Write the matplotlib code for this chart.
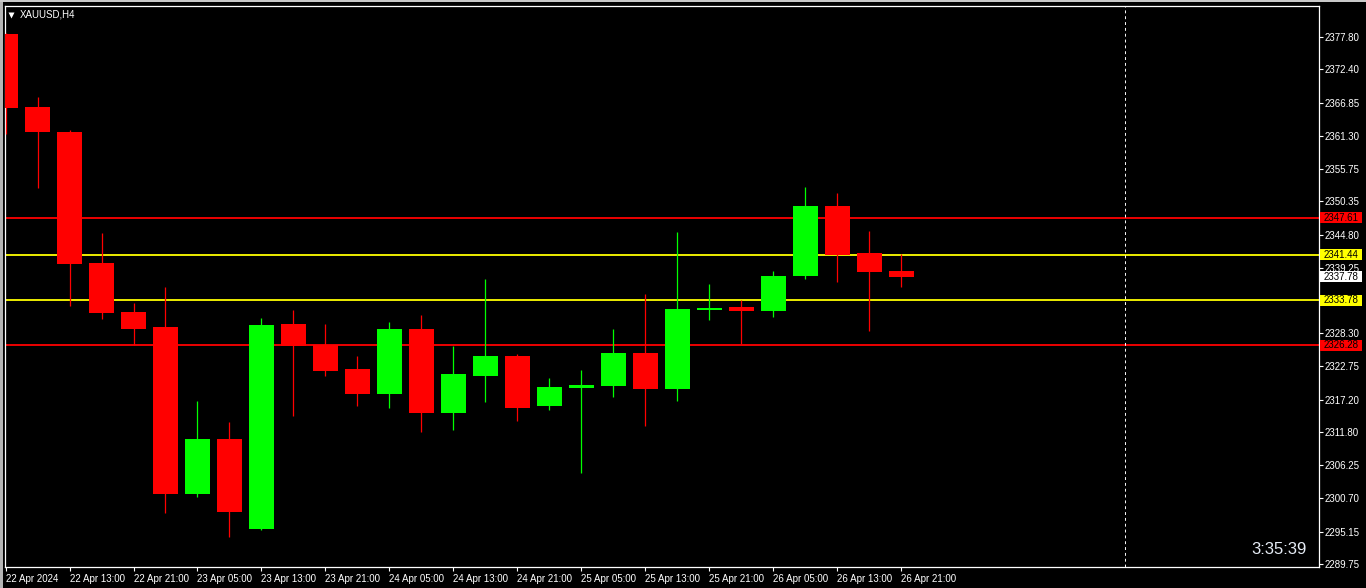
"""XAUUSD H4 candlestick chart, MT4 style (black background, red/lime candles)."""

import matplotlib
matplotlib.use("Agg")
import matplotlib.pyplot as plt
from matplotlib.patches import Rectangle
from matplotlib.transforms import blended_transform_factory

# --- data ---
opens = [2378.35, 2366.10, 2361.88, 2340.04, 2331.80, 2329.40, 2301.44, 2310.63,
         2295.64, 2329.85, 2326.34, 2322.33, 2318.20, 2329.01, 2314.98, 2321.21,
         2324.50, 2316.20, 2319.20, 2319.54, 2325.00, 2319.04, 2332.19, 2332.69,
         2332.07, 2337.92, 2349.56, 2341.66, 2338.70]
highs = [2378.50, 2367.72, 2362.21, 2345.05, 2333.41, 2336.03, 2316.93, 2313.52,
         2330.80, 2332.19, 2329.85, 2324.50, 2330.18, 2331.35, 2326.17, 2337.37,
         2324.83, 2320.82, 2322.16, 2329.01, 2334.91, 2345.22, 2336.53, 2333.86,
         2338.70, 2352.74, 2351.73, 2345.39, 2341.54]
lows = [2361.59, 2352.52, 2332.85, 2330.73, 2326.34, 2298.22, 2300.94, 2294.31,
        2295.43, 2314.52, 2321.16, 2316.15, 2315.86, 2311.85, 2312.19, 2316.86,
        2313.69, 2315.53, 2305.00, 2317.70, 2312.85, 2317.03, 2330.56, 2326.50,
        2331.02, 2337.42, 2336.91, 2328.73, 2336.08]
closes = [2365.99, 2361.88, 2339.92, 2331.68, 2328.96, 2301.44, 2310.63, 2298.38,
          2329.68, 2326.22, 2321.99, 2318.20, 2329.01, 2314.98, 2321.49, 2324.50,
          2315.86, 2319.32, 2319.65, 2325.00, 2319.04, 2332.35, 2332.57, 2332.02,
          2337.87, 2349.56, 2341.43, 2338.59, 2337.75]

xtick_labels = ["22 Apr 2024", "22 Apr 13:00", "22 Apr 21:00", "23 Apr 05:00",
                "23 Apr 13:00", "23 Apr 21:00", "24 Apr 05:00", "24 Apr 13:00",
                "24 Apr 21:00", "25 Apr 05:00", "25 Apr 13:00", "25 Apr 21:00",
                "26 Apr 05:00", "26 Apr 13:00", "26 Apr 21:00"]
yticks = [2377.80, 2372.40, 2366.85, 2361.30, 2355.75, 2350.35, 2344.80, 2339.25,
          2328.30, 2322.75, 2317.20, 2311.80, 2306.25, 2300.70, 2295.15, 2289.75]

red_levels = [2347.61, 2326.28]
yellow_levels = [2341.44, 2333.78]
current_price = 2337.78
future_bar = 35
timer_text = "3:35:39"
symbol = "XAUUSD,H4"

UP = "#00FF00"
DOWN = "#FF0000"
FONT = "Liberation Sans"

W, H = 1366, 588
L, R, T, B = 5, 1319, 6, 567  # plot frame in pixels

fig = plt.figure(figsize=(W / 100, H / 100), dpi=100, facecolor="black")
ax = fig.add_axes([L / W, (H - B) / H, (R - L) / W, (B - T) / H])
ax.set_facecolor("black")

# thin grey window border
fig.patches.append(Rectangle((0, 0), 3 / W, 1, transform=fig.transFigure,
                             color="#b4b4b4", lw=0))
fig.patches.append(Rectangle((0, 1 - 2 / H), 1, 2 / H, transform=fig.transFigure,
                             color="#c8c8c8", lw=0))

idx = list(range(len(opens)))
cols = [UP if c >= o else DOWN for o, c in zip(opens, closes)]
ax.vlines(idx, lows, highs, colors=cols, lw=0.9, zorder=3)
ax.bar(idx, [abs(c - o) for o, c in zip(opens, closes)],
       bottom=[min(o, c) for o, c in zip(opens, closes)],
       width=0.77, color=cols, lw=0, zorder=4)

for lv in red_levels:
    ax.axhline(lv, color=DOWN, lw=1.3, zorder=2)
for lv in yellow_levels:
    ax.axhline(lv, color="#FFFF00", lw=1.3, zorder=2)
ax.axvline(future_bar, color="white", lw=0.7, ls=(0, (3, 3)), zorder=2)

px = 5.985  # pixels per price unit
ax.set_xlim(-0.016, 41.05)
ax.set_ylim(2377.80 - (B - 37) / px, 2377.80 + (37 - T) / px)

for sp in ax.spines.values():
    sp.set_color("white")
    sp.set_linewidth(0.9)

ax.yaxis.tick_right()
ax.set_yticks(yticks)
ax.set_yticklabels([f"{v:.2f}" for v in yticks])
ax.set_xticks(range(0, len(opens), 2))
ax.set_xticklabels(xtick_labels, ha="left")
ax.tick_params(axis="y", colors="white", length=3, width=0.8, pad=1,
               labelsize=7, labelfontfamily=FONT)
ax.tick_params(axis="x", colors="white", length=3, width=0.8, pad=2,
               labelsize=7, labelfontfamily=FONT)

# price tags on the right scale
tr = blended_transform_factory(ax.transAxes, ax.transData)
tag_w = 42 / (R - L)
tag_h = 11.5 / px
tags = ([(v, DOWN) for v in red_levels] + [(v, "#FFFF00") for v in yellow_levels]
        + [(current_price, "white")])
for v, fc in tags:
    ax.add_patch(Rectangle((1 + 1 / (R - L), v - tag_h / 2), tag_w, tag_h,
                           transform=tr, fc=fc, ec="none", clip_on=False, zorder=5))
    ax.text(1 + 1 / (R - L) + tag_w / 2, v, f"{v:.2f}", transform=tr,
            ha="center", va="center", fontsize=7, family=FONT, color="black",
            clip_on=False, zorder=6)

# symbol caption and bar timer
ax.plot([(11 - L) / (R - L)], [(B - 14.5) / (B - T)], marker="v", ms=4,
        color="white", mec="none", transform=ax.transAxes, clip_on=False)
ax.text((20 - L) / (R - L), (B - 17.7) / (B - T), symbol, transform=ax.transAxes,
        ha="left", va="baseline", fontsize=7, family=FONT, color="white")
ax.text((1307 - L) / (R - L), (B - 554.3) / (B - T), timer_text,
        transform=ax.transAxes, ha="right", va="baseline", fontsize=12,
        family=FONT, color="#e6ecf5")

fig.savefig("out.png", dpi=100, facecolor="black")
